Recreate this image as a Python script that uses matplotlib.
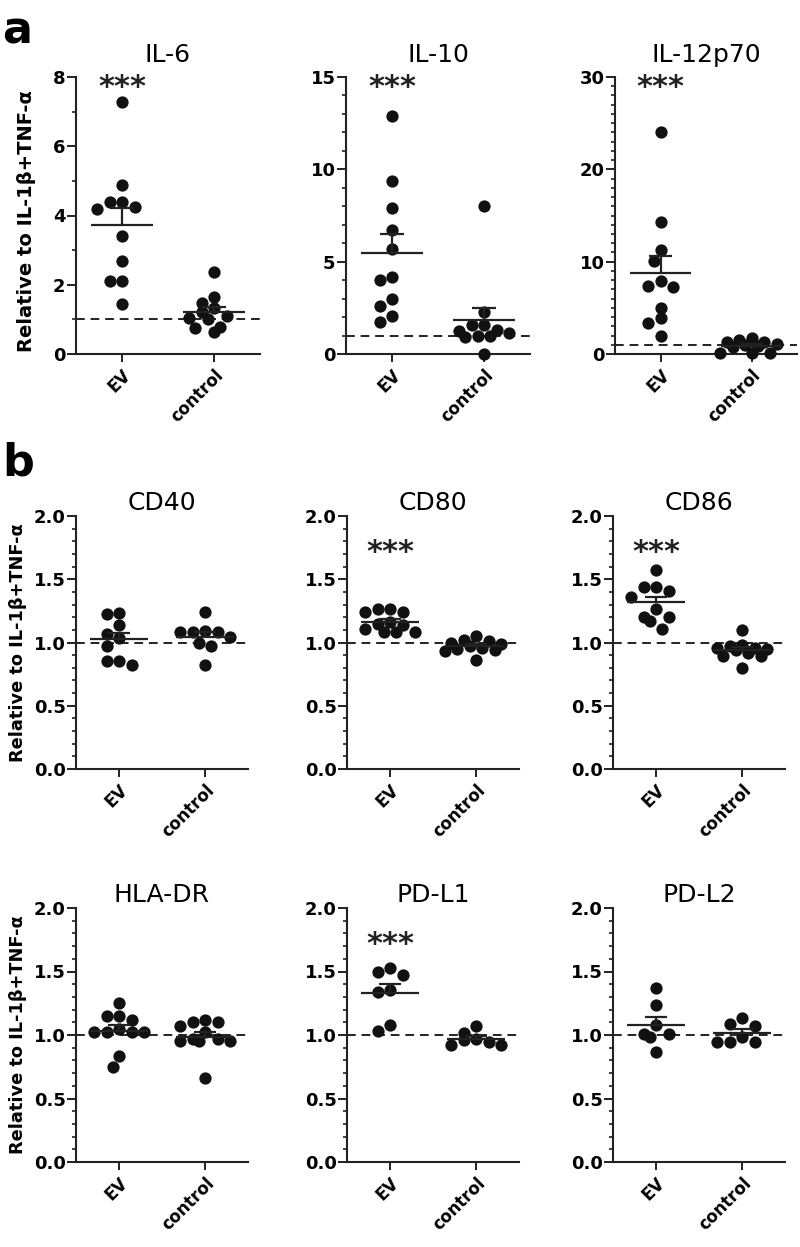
import numpy as np
import matplotlib
matplotlib.use("Agg")
import matplotlib.pyplot as plt

plt.rcParams["font.family"] = ["DejaVu Sans"]

groups = ["EV", "control"]

# cytokines (panel a)
il6_ev = [7.28, 4.88, 4.38, 4.38, 4.25, 4.18, 3.40, 2.69, 2.11, 2.11, 1.43]
il6_ctrl = [2.38, 1.65, 1.46, 1.32, 1.22, 1.11, 1.05, 1.00, 0.79, 0.74, 0.64]
il10_ev = [12.89, 9.39, 7.88, 6.71, 5.66, 4.18, 4.00, 2.97, 2.60, 2.06, 1.73]
il10_ctrl = [8.04, 2.29, 1.57, 1.57, 1.30, 1.24, 1.12, 1.00, 0.97, 0.94, 0.0]
il12_ev = [24.07, 14.28, 11.28, 10.12, 7.91, 7.41, 7.23, 4.99, 3.87, 3.40, 1.95]
il12_ctrl = [1.7, 1.5, 1.3, 1.3, 1.1, 1.0, 0.9, 0.8, 0.1, 0.1, 0.1]

# surface markers (panel b)
cd40_ev = [1.237, 1.229, 1.137, 1.071, 1.039, 0.971, 0.855, 0.855, 0.821]
cd40_ctrl = [1.24, 1.08, 1.08, 1.08, 1.09, 1.04, 1.00, 0.97, 0.82]
cd80_ev = [1.265, 1.265, 1.24, 1.24, 1.16, 1.147, 1.14, 1.108, 1.081, 1.081, 1.081]
cd80_ctrl = [1.055, 1.02, 1.01, 1.00, 0.99, 0.97, 0.96, 0.95, 0.94, 0.93, 0.86]
cd86_ev = [1.572, 1.436, 1.436, 1.41, 1.357, 1.265, 1.205, 1.205, 1.173, 1.108]
cd86_ctrl = [1.10, 0.98, 0.97, 0.96, 0.96, 0.95, 0.94, 0.92, 0.89, 0.89, 0.80]
hla_ev = [1.251, 1.146, 1.146, 1.12, 1.051, 1.02, 1.02, 1.02, 1.02, 0.836, 0.746]
hla_ctrl = [1.12, 1.106, 1.099, 1.067, 1.02, 0.97, 0.97, 0.95, 0.95, 0.95, 0.665]
pdl1_ev = [1.527, 1.50, 1.474, 1.356, 1.335, 1.08, 1.033]
pdl1_ctrl = [1.072, 1.014, 0.967, 0.962, 0.944, 0.92, 0.92]
pdl2_ev = [1.367, 1.238, 1.08, 1.007, 1.007, 0.988, 0.87]
pdl2_ctrl = [1.133, 1.088, 1.072, 0.983, 0.944, 0.944, 0.944]

titles_a = ["IL-6", "IL-10", "IL-12p70"]
titles_b = ["CD40", "CD80", "CD86", "HLA-DR", "PD-L1", "PD-L2"]
significant = [True, True, True, False, True, True, False, True, False]

ylabel = "Relative to IL-1β+TNF-α"
ink = "#222222"

W, H = 800, 1247
fig = plt.figure(figsize=(W / 100, H / 100), dpi=100)


def add_ax(l, r, t, b):
    return fig.add_axes([l / W, 1 - b / H, (r - l) / W, (b - t) / H])


def swarm(vals, ax, d=12.5):
    # GraphPad-like scatter: points binned by height, spread on a grid of dot widths
    bb = ax.get_window_extent()
    y0, y1 = ax.get_ylim()
    ypx = np.asarray(vals) * bb.height / (y1 - y0)
    order = np.argsort(-ypx, kind="stable")
    bins = []
    for i in order:
        if bins and ypx[bins[-1][0]] - ypx[i] < 0.8 * d and len(bins[-1]) < 5:
            bins[-1].append(i)
        else:
            bins.append([i])
    offs = np.zeros(len(ypx))
    shift = 0.0
    prev = None
    for b in bins:
        yb = ypx[b].mean()
        if prev is not None and prev - yb < d:
            shift = d / 2 - shift
        else:
            shift = 0.0
        if shift == 0:
            slots = [0, -d, d, -2 * d, 2 * d]
        else:
            slots = [-d / 2, d / 2, -1.5 * d, 1.5 * d, -2.5 * d]
        for k, i in enumerate(b):
            offs[i] = slots[k]
        prev = yb
    return offs / (bb.width / 2.0)


def draw(ax, ev, ctrl, title, ymax, major, minor, pad, star, star_y):
    ax.set_xlim(-0.5, 1.5)
    ax.set_ylim(0, ymax)
    for i, vals in enumerate([ev, ctrl]):
        vals = np.asarray(vals)
        xo = swarm(vals, ax)
        ax.scatter(i + xo, vals, s=78, color="#111111", lw=0, zorder=3, clip_on=False)
        m = vals.mean()
        sem = vals.std(ddof=1) / np.sqrt(len(vals))
        ax.hlines(m, i - 0.34, i + 0.34, color=ink, lw=1.6, zorder=4)
        ax.vlines(i, m, m + sem, color=ink, lw=1.6, zorder=4)
        ax.hlines(m + sem, i - 0.13, i + 0.13, color=ink, lw=1.6, zorder=4)
    ax.axhline(1, color=ink, lw=1.4, ls=(0, (4.5, 3)), zorder=2)
    ax.set_yticks(np.arange(0, ymax + 1e-9, major))
    ax.set_yticks(np.arange(0, ymax + 1e-9, minor), minor=True)
    if major < 1:
        ax.set_yticklabels([f"{t:.1f}" for t in np.arange(0, ymax + 1e-9, major)])
    ax.set_xticks([0, 1])
    ax.set_xticklabels(groups, rotation=45, ha="right", rotation_mode="anchor",
                       fontsize=12, fontweight="bold")
    for lab in ax.get_yticklabels():
        lab.set_fontweight("bold")
        lab.set_fontsize(13)
    ax.tick_params(axis="y", which="major", length=6.5, width=1.4, color=ink, pad=1)
    ax.tick_params(axis="y", which="minor", length=3.2, width=1.2, color=ink)
    ax.tick_params(axis="x", length=5.5, width=1.4, color=ink, pad=3)
    for s in ["top", "right"]:
        ax.spines[s].set_visible(False)
    for s in ["left", "bottom"]:
        ax.spines[s].set_linewidth(1.5)
        ax.spines[s].set_color(ink)
    ax.set_title(title, fontsize=18, pad=pad)
    if star:
        ax.text(0, star_y, "***", ha="center", va="baseline", fontsize=22,
                fontweight="bold", color=ink)


rows = [
    [(76, 260, 77, 354), (346, 530, 77, 354), (615, 797, 77, 354)],
    [(76, 248, 516, 769), (347, 519, 516, 769), (613, 785, 516, 769)],
    [(76, 248, 908, 1162), (347, 519, 908, 1162), (613, 785, 908, 1162)],
]
data = [
    [(il6_ev, il6_ctrl), (il10_ev, il10_ctrl), (il12_ev, il12_ctrl)],
    [(cd40_ev, cd40_ctrl), (cd80_ev, cd80_ctrl), (cd86_ev, cd86_ctrl)],
    [(hla_ev, hla_ctrl), (pdl1_ev, pdl1_ctrl), (pdl2_ev, pdl2_ctrl)],
]
scales_a = [(8, 2, 1), (15, 5, 1), (30, 10, 1)]

for r in range(3):
    for c in range(3):
        ax = add_ax(*rows[r][c])
        ev, ctrl = data[r][c]
        if r == 0:
            ymax, major, minor = scales_a[c]
            title = titles_a[c]
            pad = 11
            sy = ymax * 0.931
        else:
            ymax, major, minor = 2.0, 0.5, 0.1
            title = titles_b[(r - 1) * 3 + c]
            pad = 4.3
            sy = 1.645
        draw(ax, ev, ctrl, title, ymax, major, minor, pad, significant[r * 3 + c], sy)
        if c == 0:
            if r == 0:
                ax.set_ylabel(ylabel, fontsize=14, fontweight="bold")
                ax.yaxis.set_label_coords(-0.215, 0.48)
            else:
                ax.set_ylabel(ylabel, fontsize=12.8, fontweight="bold")
                ax.yaxis.set_label_coords(-0.285, 0.5)

fig.text(2 / W, 1 - 43 / H, "a", fontsize=32, fontweight="bold", va="baseline")
fig.text(2 / W, 1 - 475 / H, "b", fontsize=32, fontweight="bold", va="baseline")

plt.savefig("out.png", dpi=100)
print("Saved out.png")
